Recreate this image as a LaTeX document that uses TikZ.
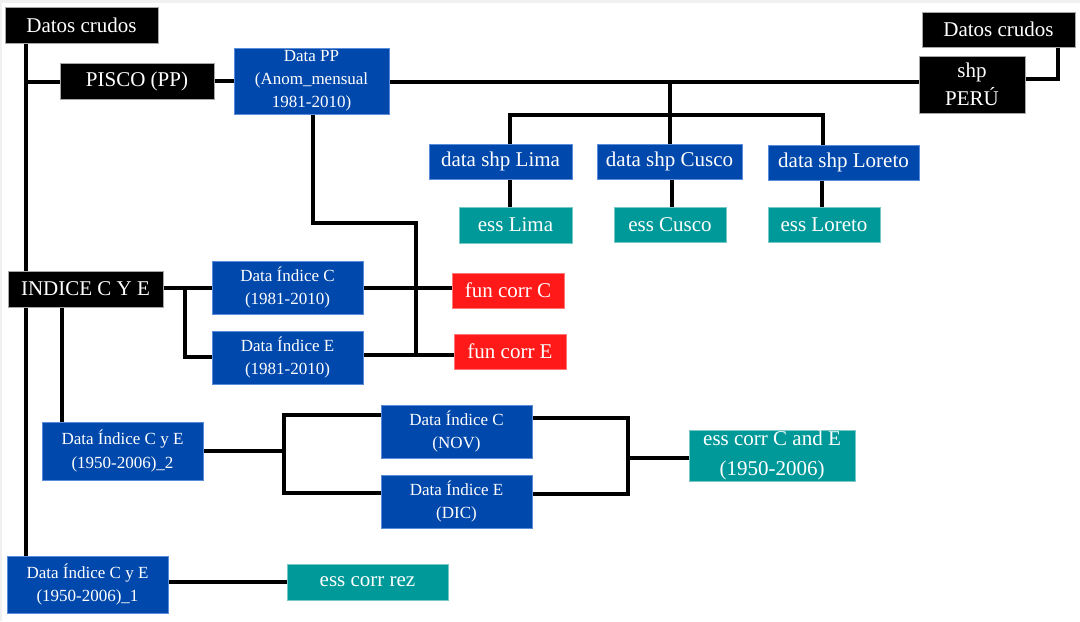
\documentclass[tikz,border=0pt]{standalone}
\usepackage{fontspec}
\setmainfont{Liberation Serif}
\pgfdeclarelayer{paper}
\pgfdeclarelayer{wires}
\pgfsetlayers{paper,wires,main}
\definecolor{cblue}{RGB}{0,72,171}
\definecolor{cblueb}{RGB}{90,140,220}
\definecolor{cteal}{RGB}{0,153,153}
\definecolor{ctealb}{RGB}{120,200,200}
\definecolor{cred}{RGB}{255,25,25}
\definecolor{credb}{RGB}{255,120,120}
\tikzset{
  basebox/.style={inner sep=0pt, align=center, text=white, line width=0.5pt},
  blackbox/.style={basebox, fill=black, draw=gray!70, font=\fontsize{10.5}{14}\selectfont},
  bluebig/.style={basebox, fill=cblue, draw=cblueb, font=\fontsize{10.5}{14}\selectfont},
  bluesmall/.style={basebox, fill=cblue, draw=cblueb, font=\fontsize{8.5}{11.6}\selectfont},
  tealbox/.style={basebox, fill=cteal, draw=ctealb, font=\fontsize{10.5}{15}\selectfont},
  redbox/.style={basebox, fill=cred, draw=credb, font=\fontsize{10.5}{14}\selectfont},
  wire/.style={draw=black, line width=2pt, line join=miter}
}
\newcommand\mybox[7]{\node[#6, minimum width={(#4-#2)*0.5pt}, minimum height={(#5-#3)*0.5pt}] (#1) at ({(#2+#4)/2},{(#3+#5)/2}) {#7};}
\begin{document}
\begin{tikzpicture}[x=0.5pt,y=-0.5pt]
\useasboundingbox (0,0) rectangle (1080,621);
\begin{pgfonlayer}{paper}
\fill[gray!12] (0,0) rectangle (1080,621);
\fill[white] (2,3) rectangle (1080,621);
\end{pgfonlayer}
% boxes
\mybox{dcA}{5}{7}{158}{43}{blackbox}{Datos crudos}
\mybox{pisco}{60}{63}{214}{99}{blackbox}{PISCO (PP)}
\mybox{dpp}{234}{48}{389}{114}{bluesmall}{Data PP\\(Anom\_mensual\\1981-2010)}
\mybox{dcB}{922}{12}{1075}{47}{blackbox}{Datos crudos}
\mybox{shp}{919}{56}{1025}{113}{blackbox}{shp\\PERÚ}
\mybox{lima}{429}{144}{572}{179}{bluebig}{data shp Lima}
\mybox{cusco}{597}{144}{742}{179}{bluebig}{data shp Cusco}
\mybox{loreto}{768}{145}{919}{180}{bluebig}{data shp Loreto}
\mybox{elima}{459}{207}{572}{243}{tealbox}{ess Lima}
\mybox{ecusco}{614}{207}{726}{242}{tealbox}{ess Cusco}
\mybox{eloreto}{768}{207}{880}{242}{tealbox}{ess Loreto}
\mybox{indice}{8}{271}{163}{307}{blackbox}{INDICE C Y E}
\mybox{ic}{212}{261}{363}{314}{bluesmall}{Data Índice C\\(1981-2010)}
\mybox{ie}{212}{331}{363}{384}{bluesmall}{Data Índice E\\(1981-2010)}
\mybox{fc}{452}{273}{564}{308}{redbox}{fun corr C}
\mybox{fe}{454}{334}{566}{369}{redbox}{fun corr E}
\mybox{ice2}{42}{422}{203}{480}{bluesmall}{Data Índice C y E\\(1950-2006)\_2}
\mybox{nov}{381}{405}{532}{458}{bluesmall}{Data Índice C\\(NOV)}
\mybox{dic}{381}{475}{532}{528}{bluesmall}{Data Índice E\\(DIC)}
\mybox{esce}{689}{430}{855}{481}{tealbox}{ess corr C and E\\(1950-2006)}
\mybox{ice1}{7}{556}{168}{613}{bluesmall}{Data Índice C y E\\(1950-2006)\_1}
\mybox{rez}{287}{564}{448}{600}{tealbox}{ess corr rez}
% helper coordinates
\coordinate (spx) at (26,82);
\coordinate (k1) at (1058,79);
\coordinate (b0) at (670,82);
\coordinate (bl) at (510,115);
\coordinate (br) at (823,115);
\coordinate (xl) at (510,0);
\coordinate (xc) at (672,0);
\coordinate (xr) at (822,0);
\coordinate (d1) at (313,223);
\coordinate (d2) at (416,223);
\coordinate (d3) at (416,355);
\coordinate (ieo) at (363,355);
\coordinate (fei) at (454,355);
\coordinate (g1) at (185,288);
\coordinate (g2) at (185,357);
\coordinate (v2) at (62,0);
\coordinate (h0) at (284,451);
\coordinate (h1) at (284,415);
\coordinate (h2) at (284,493);
\coordinate (r1) at (628,418);
\coordinate (r2) at (628,494);
\coordinate (rm) at (628,458);
\begin{pgfonlayer}{wires}
\draw[wire] (spx |- dcA.south) -- (spx |- ice1.north);
\draw[wire] (spx) -- (spx -| pisco.west);
\draw[wire] (pisco.east) -- (dpp.west);
\draw[wire] (dpp.east |- spx) -- (shp.west |- spx);
\draw[wire] (shp.east |- k1) -- (k1) -- (k1 |- dcB.south);
\draw[wire] (b0) -- (b0 |- cusco.north);
\draw[wire] (bl |- lima.north) -- (bl) -- (br) -- (br |- loreto.north);
\draw[wire] (xl |- lima.south) -- (xl |- elima.north);
\draw[wire] (xc |- cusco.south) -- (xc |- ecusco.north);
\draw[wire] (xr |- loreto.south) -- (xr |- eloreto.north);
\draw[wire] (d1 |- dpp.south) -- (d1) -- (d2) -- (d3);
\draw[wire] (ic.east) -- (ic.east -| fc.west);
\draw[wire] (ieo) -- (fei);
\draw[wire] (indice.east |- g1) -- (g1) -- (g2) -- (ie.west |- g2);
\draw[wire] (g1) -- (ic.west |- g1);
\draw[wire] (v2 |- indice.south) -- (v2 |- ice2.north);
\draw[wire] (ice2.east |- h0) -- (h0);
\draw[wire] (nov.west |- h1) -- (h1) -- (h2) -- (dic.west |- h2);
\draw[wire] (nov.east |- r1) -- (r1) -- (r2) -- (dic.east |- r2);
\draw[wire] (rm) -- (esce.west |- rm);
\draw[wire] (ice1.east |- rez.west) -- (rez.west);
\end{pgfonlayer}
\end{tikzpicture}
\end{document}
